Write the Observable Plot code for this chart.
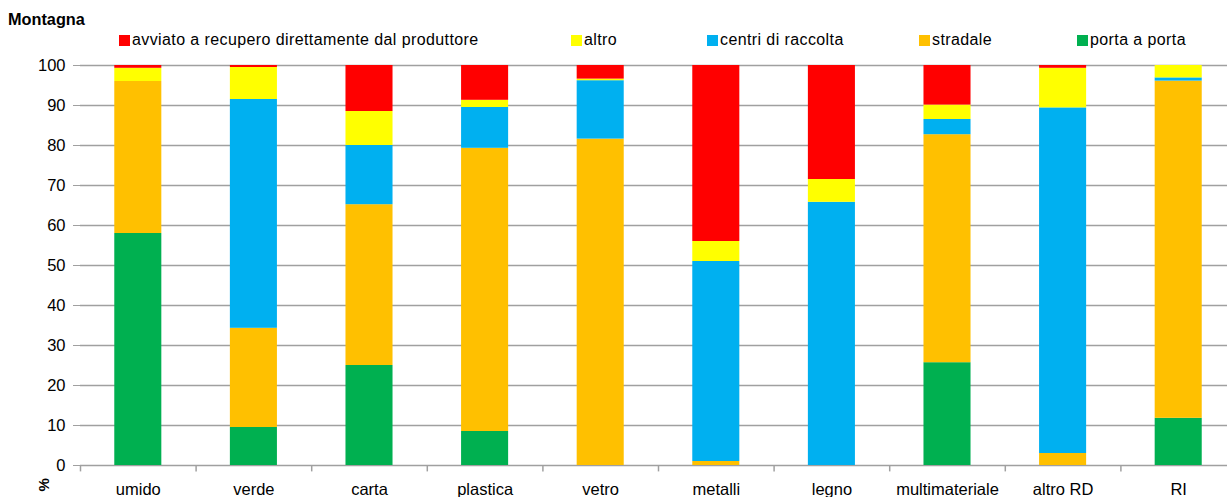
<!DOCTYPE html>
<html>
<head>
<meta charset="utf-8">
<script src="https://cdn.jsdelivr.net/npm/d3@7"></script>
<script src="https://cdn.jsdelivr.net/npm/@observablehq/plot@0.6"></script>
<style>
  html, body { margin: 0; padding: 0; background: #fff; overflow: hidden; }
  body { width: 1227px; height: 497px; font-family: "Liberation Sans", Arial, sans-serif; }
  #head { position: relative; height: 55px; }
  #title { position: absolute; left: 8px; top: 10px; font-weight: bold; font-size: 16.3px; }
  .lg { position: absolute; top: 31px; font-size: 16px; letter-spacing: 0.4px; white-space: nowrap; display: flex; align-items: center; }
  .sw { width: 11px; height: 11px; display: inline-block; margin-right: 2px; }
</style>
</head>
<body>
<div id="head"><div id="title">Montagna</div><div id="legend"></div></div>
<div id="chart"></div>
<script>
const categories = ["umido", "verde", "carta", "plastica", "vetro", "metalli", "legno", "multimateriale", "altro RD", "RI"];
const seriesNames = ["porta a porta", "stradale", "centri di raccolta", "altro", "avviato a recupero direttamente dal produttore"];
const seriesColors = ["#00B050", "#FFC000", "#00B0F0", "#FFFF00", "#FF0000"];
const portaAPorta = [58, 9.5, 25, 8.5, 0, 0, 0, 25.7, 0, 11.8];
const stradale = [38, 24.8, 40.2, 70.8, 81.6, 1, 0, 57, 3, 84.3];
const centriDiRaccolta = [0, 57.2, 14.8, 10.2, 14.6, 50, 65.8, 3.8, 86.4, 0.8];
const altro = [3.3, 8, 8.5, 1.8, 0.4, 5, 5.7, 3.6, 9.9, 3.1];
const avviato = [0.7, 0.5, 11.5, 8.7, 3.4, 44, 28.5, 9.9, 0.7, 0];
const yTicks = [0, 10, 20, 30, 40, 50, 60, 70, 80, 90, 100];
const legendOrder = [4, 3, 2, 1, 0];
const legendX = [119, 571, 707, 919, 1077];

const seriesValues = [portaAPorta, stradale, centriDiRaccolta, altro, avviato];
const rows = [];
seriesNames.forEach((s, si) => categories.forEach((c, ci) => rows.push({cat: c, serie: s, value: seriesValues[si][ci]})));

// legend
const lg = document.getElementById("legend");
legendOrder.forEach((si, k) => {
  const d = document.createElement("div");
  d.className = "lg";
  d.style.left = legendX[k] + "px";
  d.innerHTML = `<span class="sw" style="background:${seriesColors[si]}"></span><span>${seriesNames[si]}</span>`;
  lg.appendChild(d);
});

const step = (1236 - 80) / categories.length;
const chart = Plot.plot({
  width: 1227,
  height: 442,
  marginLeft: 80,
  marginRight: 0,
  marginTop: 10,
  marginBottom: 32,
  style: {fontFamily: "Liberation Sans, Arial, sans-serif", fontSize: "16.5px", color: "black", background: "white"},
  x: {domain: categories, range: [80, 1236], paddingInner: 0.593, paddingOuter: 0.2965, align: 0.5, round: false},
  y: {domain: [0, 100]},
  color: {domain: seriesNames, range: seriesColors},
  marks: [
    Plot.gridY(yTicks, {stroke: "#a0a0a0", strokeOpacity: 1, strokeWidth: 1.5}),
    Plot.barY(rows, {x: "cat", y: "value", fill: "serie", order: seriesNames}),
    Plot.ruleX([0], {x: () => 80, y1: 0, y2: 100, stroke: "#a0a0a0", strokeWidth: 1.5}),
    Plot.ruleX(categories, {x: d => d, dx: -step / 2, y1: 0, y2: -1.6, stroke: "#a0a0a0", strokeWidth: 1.5}),
    Plot.axisY({ticks: yTicks, tickSize: 7, tickPadding: 8, stroke: "#a0a0a0", fill: "black", label: null, fontSize: 16.5}),
    Plot.axisX({tickSize: 0, tickPadding: 18, label: null, fontSize: 16.5, fill: "black"}),
    Plot.text(["%"], {frameAnchor: "bottom-left", text: d => d, rotate: -90, dx: -32, dy: 26, fontSize: 15, fontWeight: "bold"})
  ]
});
document.getElementById("chart").appendChild(chart);
</script>
</body>
</html>
